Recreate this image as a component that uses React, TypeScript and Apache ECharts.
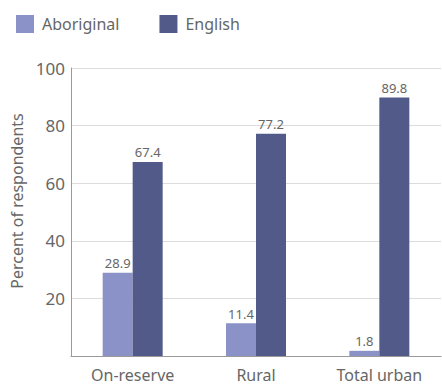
import React, { useEffect, useRef } from "react";
import * as echarts from "echarts";

const categories = ["On-reserve", "Rural", "Total urban"];
const aboriginal = [28.9, 11.4, 1.8];
const english = [67.4, 77.2, 89.8];
const seriesNames = ["Aboriginal", "English"];
const yTitle = "Percent of respondents";

const FONT = "Noto Sans";
const TEXT = "#666666";

export default function App() {
  const ref = useRef<HTMLDivElement>(null);
  useEffect(() => {
    if (!ref.current) return;
    const chart = echarts.init(ref.current, undefined, { renderer: "svg" });
    chart.setOption({
      animation: false,
      backgroundColor: "#ffffff",
      textStyle: { fontFamily: FONT },
      legend: {
        left: 11,
        top: 10,
        itemWidth: 18,
        itemHeight: 18,
        itemGap: 40,
        icon: "rect",
        textStyle: { fontFamily: FONT, fontSize: 16, color: TEXT, padding: [0, 0, 0, 3] },
        data: seriesNames,
      },
      grid: { left: 71, right: 1, top: 68, bottom: 33, containLabel: false },
      xAxis: {
        type: "category",
        data: categories,
        axisLine: { lineStyle: { color: "#9a9a9a", width: 1 } },
        axisTick: { show: false },
        axisLabel: { fontFamily: FONT, fontSize: 16, color: TEXT, margin: 11 },
      },
      yAxis: {
        type: "value",
        min: 0,
        max: 100,
        interval: 20,
        axisLine: { show: true, lineStyle: { color: "#9a9a9a", width: 1 } },
        axisTick: { show: false },
        axisLabel: { fontFamily: FONT, fontSize: 17, color: TEXT, margin: 6, showMinLabel: false },
        splitLine: { show: true, lineStyle: { color: "#dcdcdc", width: 1 } },
      },
      graphic: [
        {
          type: "text",
          x: 17,
          y: 201,
          rotation: Math.PI / 2,
          style: {
            text: yTitle,
            fontFamily: FONT,
            fontSize: 16,
            fill: TEXT,
            align: "center",
            verticalAlign: "middle",
          },
        },
      ],
      series: [
        {
          name: seriesNames[0],
          type: "bar",
          data: aboriginal,
          barWidth: 30,
          barGap: "0%",
          itemStyle: { color: "#8b92c8" },
          label: { show: true, position: "top", distance: 3, fontFamily: FONT, fontSize: 13, color: TEXT },
        },
        {
          name: seriesNames[1],
          type: "bar",
          data: english,
          barWidth: 30,
          barGap: "0%",
          itemStyle: { color: "#525a8a" },
          label: { show: true, position: "top", distance: 3, fontFamily: FONT, fontSize: 13, color: TEXT },
        },
      ],
    });
    return () => chart.dispose();
  }, []);
  return (
    <div
      ref={ref}
      style={{ position: "absolute", left: 0, top: 0, width: 442, height: 389 }}
    />
  );
}
